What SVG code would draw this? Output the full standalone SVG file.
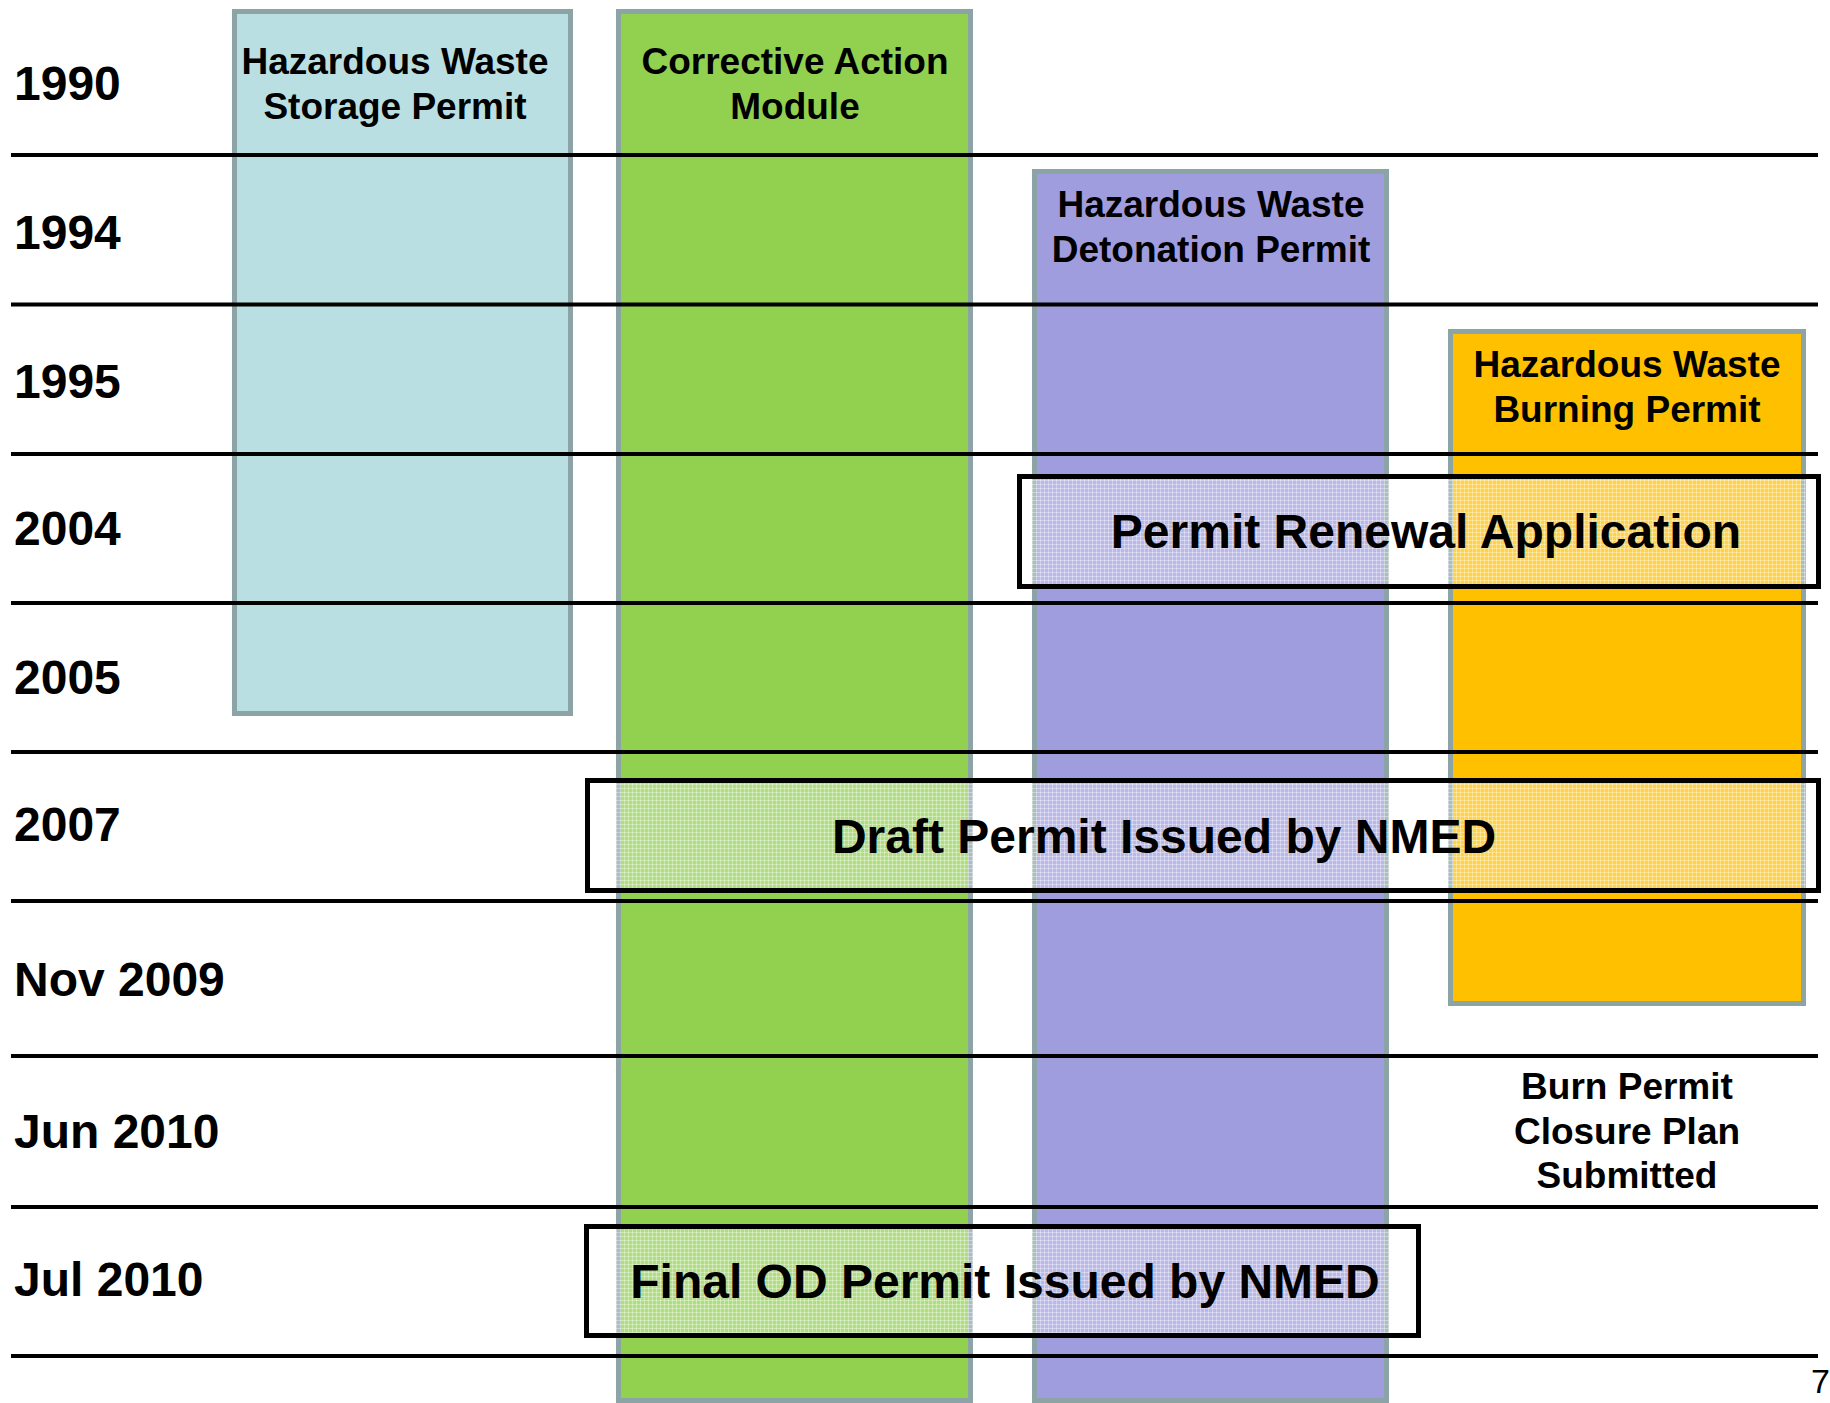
<svg xmlns="http://www.w3.org/2000/svg" width="1830" height="1403" viewBox="0 0 1830 1403">
<style>
.col{stroke:#8DA4A6;stroke-width:5}
.title{font-family:"Liberation Sans",Arial,sans-serif;font-weight:bold;font-size:37px;fill:#000;text-anchor:middle}
.year{font-family:"Liberation Sans",Arial,sans-serif;font-weight:bold;font-size:48px;fill:#000}
.big{font-family:"Liberation Sans",Arial,sans-serif;font-weight:bold;font-size:48px;fill:#000;text-anchor:middle}
.rule{stroke:#000;stroke-width:4}
.ovl{fill:url(#grid);stroke:#000;stroke-width:5}
</style>
<defs>
<pattern id="grid" width="4" height="4" patternUnits="userSpaceOnUse">
<rect width="4" height="4" fill="#fff" fill-opacity="0.28"/>
<path d="M0 0.5H4M0.5 0V4" stroke="#fff" stroke-opacity="0.35" stroke-width="1"/>
</pattern>
</defs>
<rect width="1830" height="1403" fill="#fff"/>
<g id="storage">
<rect class="col" x="234.5" y="11.5" width="336" height="702" fill="#B9DFE3"/>
<text class="title" x="395" y="74">Hazardous Waste</text>
<text class="title" x="395" y="119">Storage Permit</text>
</g>
<g id="corrective">
<rect class="col" x="618.5" y="11.5" width="352" height="1389" fill="#92D050"/>
<text class="title" x="795" y="74">Corrective Action</text>
<text class="title" x="795" y="119">Module</text>
</g>
<g id="detonation">
<rect class="col" x="1034.5" y="171.5" width="352" height="1229" fill="#9F9DDE"/>
<text class="title" x="1211" y="217">Hazardous Waste</text>
<text class="title" x="1211" y="262">Detonation Permit</text>
</g>
<g id="burning">
<rect class="col" x="1450.5" y="331.5" width="353" height="672" fill="#FFC000"/>
<text class="title" x="1627" y="377">Hazardous Waste</text>
<text class="title" x="1627" y="422">Burning Permit</text>
</g>
<g id="connectors">
<line class="rule" x1="11" y1="155" x2="1818" y2="155"/>
<line class="rule" x1="11" y1="304.5" x2="1818" y2="304.5"/>
<line class="rule" x1="11" y1="454" x2="1818" y2="454"/>
<line class="rule" x1="11" y1="603" x2="1818" y2="603"/>
<line class="rule" x1="11" y1="752" x2="1818" y2="752"/>
<line class="rule" x1="11" y1="901" x2="1818" y2="901"/>
<line class="rule" x1="11" y1="1056" x2="1818" y2="1056"/>
<line class="rule" x1="11" y1="1207" x2="1818" y2="1207"/>
<line class="rule" x1="11" y1="1356" x2="1818" y2="1356"/>
</g>
<g id="years">
<text class="year" x="14" y="100">1990</text>
<text class="year" x="14" y="249">1994</text>
<text class="year" x="14" y="398">1995</text>
<text class="year" x="14" y="545">2004</text>
<text class="year" x="14" y="694">2005</text>
<text class="year" x="14" y="841">2007</text>
<text class="year" x="14" y="996">Nov 2009</text>
<text class="year" x="14" y="1148">Jun 2010</text>
<text class="year" x="14" y="1296">Jul 2010</text>
</g>
<g id="renewal">
<rect class="ovl" x="1019.5" y="476.5" width="799" height="110"/>
<text class="big" x="1426" y="548">Permit Renewal Application</text>
</g>
<g id="draft">
<rect class="ovl" x="587.5" y="780.5" width="1231" height="110"/>
<text class="big" x="1164" y="853">Draft Permit Issued by NMED</text>
</g>
<g id="final">
<rect class="ovl" x="586.5" y="1226.5" width="832" height="109"/>
<text class="big" x="1005" y="1298">Final OD Permit Issued by NMED</text>
</g>
<g id="closure">
<text class="title" x="1627" y="1099">Burn Permit</text>
<text class="title" x="1627" y="1144">Closure Plan</text>
<text class="title" x="1627" y="1188">Submitted</text>
</g>
<text x="1811" y="1393" font-family="Liberation Sans,Arial,sans-serif" font-size="34" fill="#000">7</text>
</svg>
